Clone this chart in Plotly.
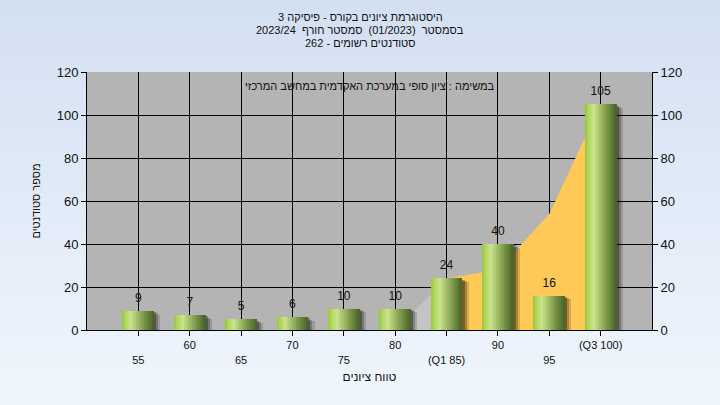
import base64
import plotly.graph_objects as go

# ---- data ----
categories = ["55", "60", "65", "70", "75", "80", "(Q1 85)", "90", "95", "(Q3 100)"]
counts = [9, 7, 5, 6, 10, 10, 24, 40, 16, 105]
# background area series
area_gray_x = [0, 1, 2, 3, 4, 5, 6]
area_gray_y = [0, 0, 0, 0, 0, 0, 24]
area_band_x = [6, 7, 8, 9]
area_band_y = [24, 28, 54, 105]
y_ticks = [0, 20, 40, 60, 80, 100, 120]

title_lines = ["היסטוגרמת ציונים בקורס - פיסיקה 3",
               "בסמסטר  (01/2023)  סמסטר חורף  2023/24",
               "סטודנטים רשומים - 262"]
note_text = "במשימה : ציון סופי במערכת האקדמית במחשב המרכזי"
x_title = "טווח ציונים"
y_title = "מספר סטודנטים"

FONT = "Liberation Sans, DejaVu Sans, Arial, sans-serif"
idx = list(range(len(categories)))

fig = go.Figure()

# areas (main subplot, drawn underneath the overlay subplot with the bars)
fig.add_trace(go.Scatter(x=area_gray_x, y=area_gray_y, mode="lines", fill="tozeroy",
                         line=dict(width=0, color="#c3c3c3"), fillcolor="#c3c3c3",
                         hoverinfo="skip", showlegend=False))
fig.add_trace(go.Scatter(x=area_band_x, y=area_band_y, mode="lines", fill="tozeroy",
                         line=dict(width=0, color="#fec957"), fillcolor="#fec957",
                         hoverinfo="skip", showlegend=False))

BW = 0.62
# shadows
for dx, dy, col in [(0.12, 1.8, "rgba(0,0,0,0.15)"), (0.08, 1.2, "rgba(0,0,0,0.22)"),
                    (0.04, 0.6, "rgba(0,0,0,0.3)")]:
    fig.add_trace(go.Bar(x=idx, y=[c - dy for c in counts], width=BW, offset=-BW / 2 + dx,
                         yaxis="y2", marker=dict(color=col, line=dict(width=0)),
                         hoverinfo="skip", showlegend=False))

# gradient bars as strips
stops = [(0.0, (150, 200, 58)), (0.12, (178, 216, 94)), (0.28, (202, 226, 142)),
         (0.5, (160, 186, 100)), (0.75, (110, 138, 64)), (1.0, (74, 98, 38))]


def grad(t):
    for (p0, c0), (p1, c1) in zip(stops[:-1], stops[1:]):
        if p0 <= t <= p1:
            f = (t - p0) / (p1 - p0)
            return "rgb(%d,%d,%d)" % tuple(round(a + (b - a) * f) for a, b in zip(c0, c1))
    return "rgb(%d,%d,%d)" % stops[-1][1]


N = 16
sw = BW / N
for k in range(N):
    t = (k + 0.5) / N
    fig.add_trace(go.Bar(x=idx, y=counts, width=sw * 1.08 if k < N - 1 else sw,
                         offset=-BW / 2 + k * sw, yaxis="y2",
                         marker=dict(color=grad(t), line=dict(width=0)),
                         hoverinfo="skip", showlegend=False))

# value labels
fig.add_trace(go.Scatter(x=idx, y=counts, mode="markers+text", text=[str(c) for c in counts],
                         textposition="top center", yaxis="y2",
                         marker=dict(size=8, color="rgba(0,0,0,0)"),
                         textfont=dict(family=FONT, size=12, color="#111"),
                         cliponaxis=False, hoverinfo="skip", showlegend=False))

# background gradient
svg = ("<svg xmlns='http://www.w3.org/2000/svg' width='720' height='405'>"
       "<defs><linearGradient id='g' x1='0' y1='0' x2='0' y2='1'>"
       "<stop offset='0' stop-color='#d3e0f2'/><stop offset='1' stop-color='#f0f6fd'/>"
       "</linearGradient></defs><rect width='720' height='405' fill='url(#g)'/></svg>")
src = "data:image/svg+xml;base64," + base64.b64encode(svg.encode()).decode()

W, H = 720, 405
L, R, T, B = 87, 68, 72, 75
PW, PH = W - L - R, H - T - B

ticktext = [("<br>" + c) if i % 2 == 0 else c for i, c in enumerate(categories)]

title_y_px = [17, 30, 43]
annotations = [dict(text=s, xref="paper", yref="paper",
                    x=(W / 2 - L) / PW, y=1 + (T - py) / PH,
                    xanchor="center", yanchor="middle", showarrow=False,
                    font=dict(family=FONT, size=11, color="#111"))
               for s, py in zip(title_lines, title_y_px)]
annotations.append(dict(text=note_text, xref="paper", yref="paper", x=0.5, y=1 - 6 / PH,
                        xanchor="center", yanchor="top", showarrow=False,
                        font=dict(family=FONT, size=11, color="#111")))

fig.update_layout(
    width=W, height=H,
    margin=dict(l=L, r=R, t=T, b=B, autoexpand=False),
    paper_bgcolor="#e2ebf7",
    plot_bgcolor="rgba(0,0,0,0)",
    barmode="overlay",
    bargap=0,
    font=dict(family=FONT, size=12, color="#111"),
    images=[dict(source=src, xref="paper", yref="paper", x=-L / PW, y=1 + T / PH,
                 sizex=W / PW, sizey=H / PH, sizing="stretch", layer="below",
                 xanchor="left", yanchor="top")],
    shapes=[dict(type="rect", xref="paper", yref="paper", x0=0, x1=1, y0=0, y1=1,
                 fillcolor="#b4b4b4", line=dict(width=0), layer="below")],
    xaxis=dict(range=[-1, 10], tickmode="array", tickvals=idx, ticktext=ticktext,
               showgrid=True, gridcolor="#000", gridwidth=1,
               ticks="outside", ticklen=5, tickcolor="#000",
               showline=True, linecolor="#000", linewidth=1, zeroline=False,
               tickfont=dict(family=FONT, size=11, color="#111"),
               title=dict(text=x_title, font=dict(family=FONT, size=12, color="#111"),
                          standoff=8),
               fixedrange=True),
    yaxis=dict(range=[0, 120], tickvals=y_ticks, showgrid=True, gridcolor="#000",
               gridwidth=1, ticks="outside", ticklen=5, tickcolor="#000",
               showline=True, linecolor="#000", linewidth=1, zeroline=False,
               tickfont=dict(family=FONT, size=13, color="#111"),
               title=dict(text=y_title, font=dict(family=FONT, size=11, color="#111"),
                          standoff=13),
               fixedrange=True),
    yaxis2=dict(range=[0, 120], tickvals=y_ticks, overlaying="y", side="right",
                showgrid=False, ticks="outside", ticklen=5, tickcolor="#000",
                showline=True, linecolor="#000", linewidth=1, zeroline=False,
                tickfont=dict(family=FONT, size=13, color="#111"), fixedrange=True),
    annotations=annotations,
)

fig.write_html("out.html", config={"displayModeBar": False},
               post_script="document.body.style.margin='0';document.body.style.overflow='hidden';")
